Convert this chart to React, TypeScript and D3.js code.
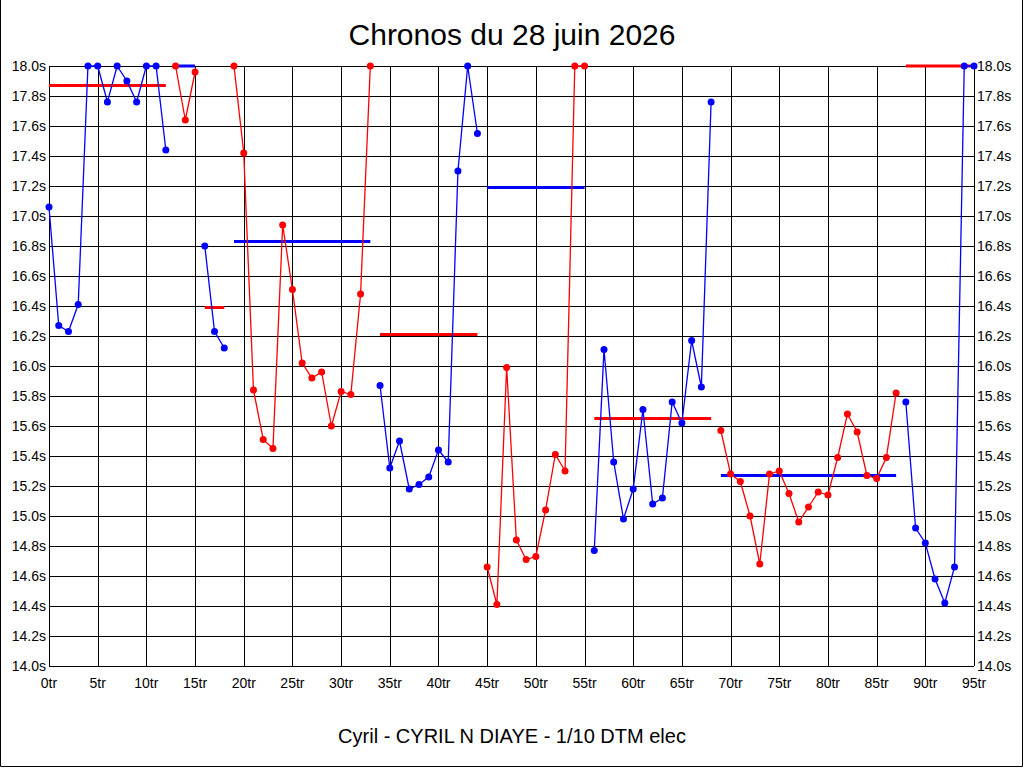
import { useRef, useEffect } from 'react';
import * as d3 from 'd3';

// lap times in seconds, one per lap (0tr .. 95tr); 18.0 = clipped at top
const lapTimes = [
  17.06, 16.27, 16.23, 16.41, 18.0, 18.0, 17.76, 18.0, 17.9, 17.76,
  18.0, 18.0, 17.44, 18.0, 17.64, 17.96, 16.8, 16.23, 16.12, 18.0,
  17.42, 15.84, 15.51, 15.45, 16.94, 16.51, 16.02, 15.92, 15.96, 15.6,
  15.83, 15.81, 16.48, 18.0, 15.87, 15.32, 15.5, 15.18, 15.21, 15.26,
  15.44, 15.36, 17.3, 18.0, 17.55, 14.66, 14.41, 15.99, 14.84, 14.71,
  14.73, 15.04, 15.41, 15.3, 18.0, 18.0, 14.77, 16.11, 15.36, 14.98,
  15.18, 15.71, 15.08, 15.12, 15.76, 15.62, 16.17, 15.86, 17.76, 15.57,
  15.28, 15.23, 15.0, 14.68, 15.28, 15.3, 15.15, 14.96, 15.06, 15.16,
  15.14, 15.39, 15.68, 15.56, 15.27, 15.25, 15.39, 15.82, 15.76, 14.92,
  14.82, 14.58, 14.42, 14.66, 18.0, 18.0,
];

// runs (battery packs): first lap, last lap, mean time
const runStarts = [0, 13, 16, 19, 34, 45, 56, 69, 88];
const runEnds = [12, 15, 18, 33, 44, 55, 68, 87, 95];
const runAverages = [17.87, 18.0, 16.39, 16.83, 16.21, 17.19, 15.65, 15.27, 18.0];

const yTicks = [14.0, 14.2, 14.4, 14.6, 14.8, 15.0, 15.2, 15.4, 15.6, 15.8, 16.0,
  16.2, 16.4, 16.6, 16.8, 17.0, 17.2, 17.4, 17.6, 17.8, 18.0];
const xTicks = [0, 5, 10, 15, 20, 25, 30, 35, 40, 45, 50, 55, 60, 65, 70, 75, 80, 85, 90, 95];

const title = 'Chronos du 28 juin 2026';
const footer = 'Cyril - CYRIL N DIAYE - 1/10 DTM elec';

const BLUE = '#0000ff';
const RED = '#ff0000';

export default function App() {
  const ref = useRef<SVGSVGElement>(null);

  useEffect(() => {
    if (!ref.current) return;
    const svg = d3.select(ref.current);
    svg.selectAll('*').remove();

    const width = 1024;
    const height = 768;
    const left = 49, right = 974, top = 66, bottom = 666;
    const font = '"Liberation Sans", Arial, sans-serif';

    const x = d3.scaleLinear().domain([0, 95]).range([left, right]);
    const y = d3.scaleLinear().domain([14, 18]).range([bottom, top]);

    svg.append('rect').attr('width', width).attr('height', height).attr('fill', '#fff');

    // outer frame (left, right, bottom)
    svg.append('path')
      .attr('d', `M0.5,0 V766.5 H1022.5 V0`)
      .attr('fill', 'none')
      .attr('stroke', '#000')
      .attr('stroke-width', 1);

    // grid
    const grid = svg.append('g').attr('stroke', '#000').attr('stroke-width', 1)
      .attr('shape-rendering', 'crispEdges');
    yTicks.forEach(t => {
      grid.append('line')
        .attr('x1', left).attr('x2', right)
        .attr('y1', Math.round(y(t)) + 0.5).attr('y2', Math.round(y(t)) + 0.5);
    });
    xTicks.forEach(t => {
      grid.append('line')
        .attr('x1', Math.round(x(t)) + 0.5).attr('x2', Math.round(x(t)) + 0.5)
        .attr('y1', top).attr('y2', bottom);
    });

    // tick labels
    const labels = svg.append('g')
      .attr('font-family', font).attr('font-size', 14).attr('fill', '#000');
    yTicks.forEach(t => {
      labels.append('text')
        .attr('x', left - 3).attr('y', y(t) + 5)
        .attr('text-anchor', 'end')
        .text(`${t.toFixed(1)}s`);
      labels.append('text')
        .attr('x', right + 3).attr('y', y(t) + 5)
        .attr('text-anchor', 'start')
        .text(`${t.toFixed(1)}s`);
    });
    xTicks.forEach(t => {
      labels.append('text')
        .attr('x', x(t)).attr('y', bottom + 22)
        .attr('text-anchor', 'middle')
        .text(`${t}tr`);
    });

    // mean line of each run, drawn in the other colour
    runStarts.forEach((s, i) => {
      svg.append('line')
        .attr('x1', x(s)).attr('x2', x(runEnds[i]))
        .attr('y1', y(runAverages[i])).attr('y2', y(runAverages[i]))
        .attr('stroke', i % 2 === 0 ? RED : BLUE)
        .attr('stroke-width', 3);
    });

    // lap time lines + markers
    const line = d3.line<number>()
      .x(d => x(d))
      .y(d => y(lapTimes[d]));

    runStarts.forEach((s, i) => {
      const laps = d3.range(s, runEnds[i] + 1);
      const color = i % 2 === 0 ? BLUE : RED;
      svg.append('path')
        .datum(laps)
        .attr('d', line)
        .attr('fill', 'none')
        .attr('stroke', color)
        .attr('stroke-width', 1.3);
      svg.append('g')
        .selectAll('circle')
        .data(laps)
        .join('circle')
        .attr('cx', d => x(d))
        .attr('cy', d => y(lapTimes[d]))
        .attr('r', 3.5)
        .attr('fill', color);
    });

    svg.append('text')
      .attr('x', 512).attr('y', 45)
      .attr('text-anchor', 'middle')
      .attr('font-family', font).attr('font-size', 30)
      .text(title);

    svg.append('text')
      .attr('x', 512).attr('y', 743)
      .attr('text-anchor', 'middle')
      .attr('font-family', font).attr('font-size', 20)
      .text(footer);
  }, []);

  return (
    <svg
      ref={ref}
      width={1024}
      height={768}
      style={{ position: 'absolute', left: 0, top: 0, display: 'block' }}
    />
  );
}
